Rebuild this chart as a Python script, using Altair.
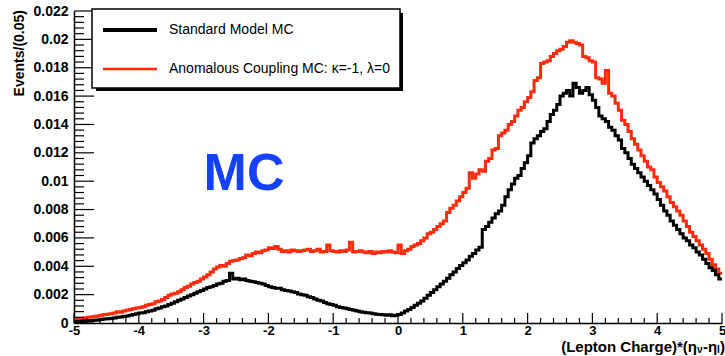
import altair as alt
import pandas as pd
import numpy as np

# ---- data (bin contents, in units of 1e-3 events per 0.05 bin) ----
x_start = -5.0
bin_width = 0.05

sm_vals = [
    0.08, 0.10, 0.12, 0.15, 0.15, 0.18, 0.20, 0.22, 0.25, 0.28, 0.30, 0.32, 0.35, 0.40, 0.42, 0.45, 0.50, 0.55, 0.60, 0.65,
    0.70, 0.72, 0.80, 0.85, 0.90, 1.00, 1.05, 1.15, 1.20, 1.30, 1.40, 1.50, 1.60, 1.70, 1.80, 1.90, 2.00, 2.10, 2.20, 2.30,
    2.40, 2.50, 2.55, 2.65, 2.75, 2.80, 2.95, 3.00, 3.50, 3.10, 3.15, 3.05, 3.10, 3.00, 2.95, 2.90, 2.85, 2.80, 2.75, 2.65,
    2.55, 2.50, 2.45, 2.45, 2.35, 2.30, 2.25, 2.20, 2.15, 2.05, 2.00, 1.95, 1.85, 1.80, 1.70, 1.60, 1.55, 1.45, 1.35, 1.30,
    1.25, 1.15, 1.10, 1.05, 1.00, 0.95, 0.90, 0.85, 0.80, 0.75, 0.72, 0.70, 0.65, 0.62, 0.60, 0.58, 0.55, 0.58, 0.52, 0.55,
    0.60, 0.70, 0.85, 0.95, 1.10, 1.25, 1.40, 1.55, 1.75, 1.95, 2.15, 2.35, 2.55, 2.75, 2.95, 3.15, 3.40, 3.60, 3.85, 4.05,
    4.25, 4.45, 4.70, 4.90, 5.15, 5.35, 6.60, 6.80, 7.10, 7.40, 7.70, 7.90, 8.30, 8.90, 9.40, 9.80, 10.20, 10.40, 10.90, 11.30,
    11.80, 12.70, 13.00, 13.20, 13.50, 13.70, 14.20, 14.70, 15.00, 15.40, 16.00, 16.20, 16.40, 16.00, 16.90, 16.60, 16.20, 16.40, 16.60, 16.10,
    15.70, 15.20, 14.60, 14.40, 14.20, 13.80, 13.60, 13.20, 12.90, 12.30, 12.00, 11.60, 11.20, 10.90, 10.60, 10.30, 10.00, 9.70, 9.40, 9.10,
    8.70, 8.30, 7.90, 7.60, 7.20, 6.90, 6.60, 6.30, 6.00, 5.80, 5.50, 5.30, 5.00, 4.80, 4.50, 4.20, 3.90, 3.70, 3.40, 3.10,
]

ac_vals = [
    0.25, 0.30, 0.32, 0.35, 0.40, 0.42, 0.45, 0.50, 0.55, 0.60, 0.62, 0.65, 0.70, 0.80, 0.75, 0.85, 0.90, 0.95, 1.00, 1.05,
    1.10, 1.15, 1.25, 1.30, 1.35, 1.50, 1.55, 1.65, 1.80, 1.95, 2.05, 2.10, 2.20, 2.35, 2.50, 2.60, 2.75, 2.85, 2.95, 3.10,
    3.25, 3.40, 3.60, 3.80, 3.95, 4.05, 4.00, 4.20, 4.35, 4.40, 4.45, 4.55, 4.60, 4.80, 4.75, 4.90, 5.00, 4.95, 5.10, 5.15,
    5.30, 5.25, 5.40, 5.20, 5.05, 5.10, 5.00, 5.15, 5.10, 5.05, 5.10, 5.15, 5.20, 5.05, 5.10, 5.20, 5.00, 5.05, 5.50, 5.10,
    5.05, 5.00, 5.10, 5.05, 5.15, 5.70, 5.00, 5.05, 5.10, 5.00, 4.95, 5.05, 4.90, 5.00, 4.95, 5.05, 5.00, 5.10, 5.00, 4.95,
    5.50, 4.90, 5.10, 5.20, 5.40, 5.50, 5.60, 5.80, 6.00, 6.30, 6.40, 6.60, 6.80, 7.00, 7.20, 7.80, 8.10, 8.30, 8.60, 8.90,
    9.20, 9.50, 10.60, 10.20, 10.50, 10.80, 10.70, 11.40, 11.60, 12.20, 12.30, 13.20, 13.40, 13.60, 14.00, 14.20, 14.60, 15.00, 15.20, 15.60,
    15.90, 16.30, 17.10, 17.30, 18.30, 18.40, 18.50, 18.80, 19.00, 19.20, 19.30, 19.50, 19.80, 19.90, 19.80, 19.70, 19.60, 18.80, 18.70, 18.50,
    18.40, 17.30, 17.20, 16.90, 17.80, 16.20, 16.00, 15.50, 15.00, 14.30, 14.00, 13.50, 13.00, 12.60, 12.20, 11.80, 11.40, 11.00, 10.80, 10.30,
    9.90, 9.60, 9.30, 8.90, 8.50, 8.20, 7.90, 7.60, 7.20, 6.80, 6.40, 6.10, 5.80, 5.50, 5.20, 4.90, 4.50, 4.10, 3.80, 3.50,
]

y_major = [0, 0.002, 0.004, 0.006, 0.008, 0.01, 0.012, 0.014, 0.016, 0.018, 0.02, 0.022]
x_major = [-5, -4, -3, -2, -1, 0, 1, 2, 3, 4, 5]
legend_labels = ["Standard Model MC", "Anomalous Coupling MC: \u03ba=-1, \u03bb=0"]

FONT = "Liberation Sans"
RED = "#ff2a0a"


def hist_df(vals):
    n = len(vals)
    edges = [round(x_start + bin_width * i, 4) for i in range(n + 1)]
    ys = [v * 1e-3 for v in vals] + [vals[-1] * 1e-3]
    return pd.DataFrame({"x": edges, "y": ys})


xs = alt.Scale(domain=[-5, 5], nice=False, zero=False)
ys = alt.Scale(domain=[0, 0.022], nice=False)

x_axis = alt.Axis(values=x_major, labelExpr="'' + datum.value", ticks=False, grid=False,
                  labelFont=FONT, labelFontSize=13, labelFontWeight="bold", labelColor="black",
                  labelPadding=1, labelOverlap=False, labelFlush=False,
                  domainColor="black", domainWidth=1.5, title=None)
y_axis = alt.Axis(values=y_major, labelExpr="'' + datum.value", ticks=False, grid=False,
                  labelFont=FONT, labelFontSize=14, labelFontWeight="bold", labelColor="black",
                  labelPadding=6, labelOverlap=False, labelFlush=False,
                  domainColor="black", domainWidth=1.5, title=None)


def X(field):
    return alt.X(field, type="quantitative", scale=xs, axis=x_axis)


def Y(field):
    return alt.Y(field, type="quantitative", scale=ys, axis=y_axis)


ac_layer = alt.Chart(hist_df(ac_vals)).mark_line(
    interpolate="step-after", color=RED, strokeWidth=3
).encode(x=X("x"), y=Y("y"))

sm_layer = alt.Chart(hist_df(sm_vals)).mark_line(
    interpolate="step-after", color="black", strokeWidth=3
).encode(x=X("x"), y=Y("y"))

# ---- inward ticks (ROOT style) ----
y_minor = [round(v, 4) for v in np.arange(0, 0.02201, 0.0004) if round(v / 0.002, 6) % 1 != 0]
x_minor = [round(v, 2) for v in np.arange(-5, 5.001, 0.2) if abs(round(v) - v) > 1e-6]

y_major_ticks = alt.Chart(pd.DataFrame({"y": y_major})).mark_rule(color="black", strokeWidth=1.2).encode(
    y=Y("y"), x=alt.value(0), x2=alt.value(20))
y_minor_ticks = alt.Chart(pd.DataFrame({"y": y_minor})).mark_rule(color="black", strokeWidth=1.2).encode(
    y=Y("y"), x=alt.value(0), x2=alt.value(10))
x_major_ticks = alt.Chart(pd.DataFrame({"x": x_major})).mark_rule(color="black", strokeWidth=1.2).encode(
    x=X("x"), y=alt.value(312), y2=alt.value(302))
x_minor_ticks = alt.Chart(pd.DataFrame({"x": x_minor})).mark_rule(color="black", strokeWidth=1.2).encode(
    x=X("x"), y=alt.value(312), y2=alt.value(307))

one = pd.DataFrame({"a": [0]})

# ---- legend box with shadow ----
leg_shadow_b = alt.Chart(one).mark_rect(color="black").encode(
    x=alt.value(22), x2=alt.value(329), y=alt.value(76), y2=alt.value(80))
leg_shadow_r = alt.Chart(one).mark_rect(color="black").encode(
    x=alt.value(325), x2=alt.value(329), y=alt.value(2), y2=alt.value(80))
leg_box = alt.Chart(one).mark_rect(fill="white", stroke="black", strokeWidth=1.5).encode(
    x=alt.value(18), x2=alt.value(326), y=alt.value(-2), y2=alt.value(77))
leg_line_sm = alt.Chart(one).mark_rule(color="black", strokeWidth=4).encode(
    x=alt.value(29), x2=alt.value(83), y=alt.value(19))
leg_line_ac = alt.Chart(one).mark_rule(color=RED, strokeWidth=2.5).encode(
    x=alt.value(29), x2=alt.value(83), y=alt.value(58))
leg_text_sm = alt.Chart(one).mark_text(align="left", baseline="middle", font=FONT, fontSize=14,
                                       color="black", text=legend_labels[0]).encode(
    x=alt.value(95), y=alt.value(19))
leg_text_ac = alt.Chart(one).mark_text(align="left", baseline="middle", font=FONT, fontSize=14,
                                       color="black", text=legend_labels[1]).encode(
    x=alt.value(95), y=alt.value(58))

# ---- annotations / titles ----
mc_text = alt.Chart(one).mark_text(align="center", baseline="middle", font=FONT, fontSize=52,
                                   fontWeight="bold", color="#1440ff", text="MC").encode(
    x=alt.value(170), y=alt.value(163))

y_title = alt.Chart(one).mark_text(align="right", baseline="middle", angle=270, font=FONT, fontSize=14,
                                   fontWeight="bold", color="black", text="Events/(0.05)").encode(
    x=alt.value(-54), y=alt.value(-1))

TY = 336
xt_main = alt.Chart(one).mark_text(align="right", baseline="middle", font=FONT, fontSize=15,
                                   fontWeight="bold", color="black", text="(Lepton Charge)*(\u03b7").encode(
    x=alt.value(623), y=alt.value(TY))
xt_sub1 = alt.Chart(one).mark_text(align="left", baseline="middle", font=FONT, fontSize=10,
                                   fontWeight="bold", color="black", text="\u03bd").encode(
    x=alt.value(623), y=alt.value(TY + 3))
xt_mid = alt.Chart(one).mark_text(align="left", baseline="middle", font=FONT, fontSize=15,
                                  fontWeight="bold", color="black", text="-\u03b7").encode(
    x=alt.value(629), y=alt.value(TY))
xt_sub2 = alt.Chart(one).mark_text(align="left", baseline="middle", font=FONT, fontSize=10,
                                   fontWeight="bold", color="black", text="l").encode(
    x=alt.value(643), y=alt.value(TY + 3))
xt_end = alt.Chart(one).mark_text(align="left", baseline="middle", font=FONT, fontSize=15,
                                  fontWeight="bold", color="black", text=")").encode(
    x=alt.value(646), y=alt.value(TY))

chart = alt.layer(
    ac_layer, sm_layer,
    y_major_ticks, y_minor_ticks, x_major_ticks, x_minor_ticks,
    leg_shadow_b, leg_shadow_r, leg_box, leg_line_sm, leg_line_ac, leg_text_sm, leg_text_ac,
    mc_text, y_title, xt_main, xt_sub1, xt_mid, xt_sub2, xt_end,
).properties(
    width=648, height=312,
    padding={"left": 74, "top": 11, "right": 3, "bottom": 33},
    autosize=alt.AutoSizeParams(type="none"),
    background="white",
).configure_view(stroke=None)

chart.save("out.html", embed_options={"renderer": "svg", "actions": False})
